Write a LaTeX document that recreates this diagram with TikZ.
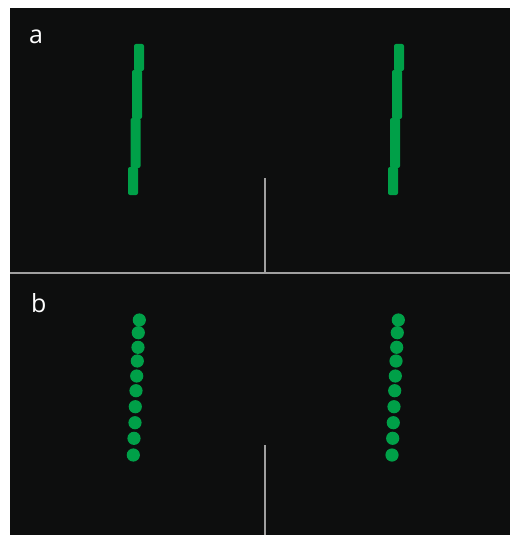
\documentclass[tikz,border=0pt]{standalone}
\usepackage{fontspec}
\setsansfont{Open Sans}
\definecolor{bg}{RGB}{13,14,14}
\definecolor{grn}{RGB}{0,160,72}
\definecolor{ln}{RGB}{160,160,160}
\begin{document}
\begin{tikzpicture}[x=1pt,y=-1pt,
  seg/.style={fill=grn,draw=none,rounded corners=2pt},
  dot/.style={fill=grn,draw=none},
  divline/.style={draw=ln,line width=2pt},
  lbl/.style={text=white,font=\sffamily\fontsize{25}{25}\selectfont,inner sep=0pt}]
\useasboundingbox (0,0) rectangle (510,535);
\fill[bg] (10,8) rectangle (510,535);
% panel a bars
\foreach \xl/\yt/\yb in {134/44/71, 132/70/119, 130.5/118/168, 128/167/195}{
  \path[seg] (\xl,\yt) rectangle ++(10,\yb-\yt);
}
\foreach \xl/\yt/\yb in {394/44/71, 392/70/119, 390/118/168, 388/167/195}{
  \path[seg] (\xl,\yt) rectangle ++(10,\yb-\yt);
}
% panel b dots
\foreach \x/\y in {139.3/320,138.3/332.7,138/347.3,137.3/361,136.7/376,136/390.7,135.3/406.7,135/422.7,134/438.3,133.3/455}{
  \path[dot] (\x,\y) circle (6.6);
}
\foreach \x/\y in {398.3/320,397.3/332.7,396.7/347.3,396/361,395.3/376,394.7/390.7,394/406.7,393.3/422.7,392.7/438.3,392/455}{
  \path[dot] (\x,\y) circle (6.6);
}
% lines
\draw[divline] (10,273) -- (510,273);
\draw[divline] (265,178) -- (265,273);
\draw[divline] (265,445) -- (265,535);
% labels
\node[lbl,anchor=base west] (la) at (29,43.5) {a};
\node[lbl,anchor=base west] (lb) at (31,312) {b};
\end{tikzpicture}
\end{document}
